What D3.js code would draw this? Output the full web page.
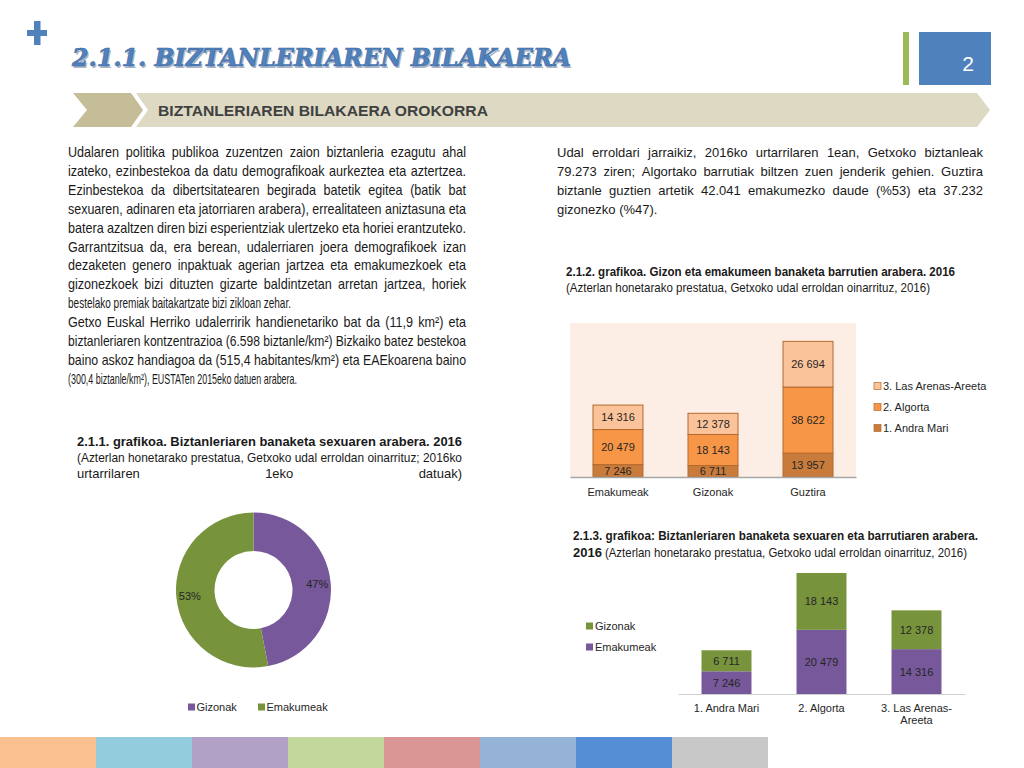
<html>
<head>
  <script src="https://unpkg.com/d3@7/dist/d3.min.js"></script>
  <style>
    body { margin: 0; background: #fff; }
    svg { font-family: 'Liberation Sans', Arial, sans-serif; }
  </style>
</head>
<body>
  <svg id="container" width="1024" height="768"></svg>
<script>
    // chart 2.1.2: districts stacked per group
    const groups = ['Emakumeak', 'Gizonak', 'Guztira'];
    const districts = ['1. Andra Mari', '2. Algorta', '3. Las Arenas-Areeta'];
    const andraMari = [7246, 6711, 13957];
    const algorta = [20479, 18143, 38622];
    const lasArenas = [14316, 12378, 26694];
    const districtColors = ['#c97b3b', '#f79646', '#fbc39a'];

    // chart 2.1.1: donut
    const sexes = ['Gizonak', 'Emakumeak'];
    const sexTotals = [37232, 42041];
    const sexColors = ['#77589a', '#77933c'];

    // chart 2.1.3: sexes stacked per district
    const women = [7246, 20479, 14316];
    const men = [6711, 18143, 12378];

    const stripColors = ['#fac08f', '#93cddd', '#b2a1c7', '#c3d69b', '#d99694', '#95b3d7', '#558ed5', '#c8c8c8'];

    const leftText = [
      'Udalaren politika publikoa zuzentzen zaion biztanleria ezagutu ahal',
      'izateko, ezinbestekoa da datu demografikoak aurkeztea eta aztertzea.',
      'Ezinbestekoa da dibertsitatearen begirada batetik egitea (batik bat',
      'sexuaren, adinaren eta jatorriaren arabera), errealitateen aniztasuna eta',
      'batera azaltzen diren bizi esperientziak ulertzeko eta horiei erantzuteko.',
      'Garrantzitsua da, era berean, udalerriaren joera demografikoek izan',
      'dezaketen genero inpaktuak agerian jartzea eta emakumezkoek eta',
      'gizonezkoek bizi dituzten gizarte baldintzetan arretan jartzea, horiek',
      'bestelako premiak baitakartzate bizi zikloan zehar.',
      'Getxo Euskal Herriko udalerririk handienetariko bat da (11,9 km²) eta',
      'biztanleriaren kontzentrazioa (6.598 biztanle/km²) Bizkaiko batez bestekoa',
      'baino askoz handiagoa da (515,4 habitantes/km²) eta EAEkoarena baino',
      '(300,4 biztanle/km²), EUSTATen 2015eko datuen arabera.'
    ];
    const rightText = [
      'Udal erroldari jarraikiz, 2016ko urtarrilaren 1ean, Getxoko biztanleak',
      '79.273 ziren; Algortako barrutiak biltzen zuen jenderik gehien. Guztira',
      'biztanle guztien artetik 42.041 emakumezko daude (%53) eta 37.232',
      'gizonezko (%47).'
    ];

    const svg = d3.select('#container');
    const fmt = d3.formatLocale({decimal: ',', thousands: ' ', grouping: [3], currency: ['', '']}).format(',d');

    // one line of text: justified by word gaps, or squeezed to width
    function line(sel, str, x, y, w, o) {
      o = o || {};
      const sx = o.sx || 1;
      const g = sel.append('g').attr('transform', `translate(${x},${y}) scale(${sx},1)`);
      const t = g.append('text').attr('y', 0)
        .style('font-size', (o.size || 13) + 'px')
        .style('font-weight', o.bold ? 'bold' : null)
        .style('font-family', o.family || null)
        .attr('fill', o.fill || '#1a1a1a');
      if (!w) { t.attr('x', 0).text(str); return t; }
      const W = w / sx;
      if (o.fit) {
        t.attr('x', 0).text(str).attr('textLength', W).attr('lengthAdjust', 'spacingAndGlyphs');
        return t;
      }
      const words = str.split(' ');
      words.forEach(wd => t.append('tspan').text(wd));
      const widths = t.selectAll('tspan').nodes().map(n => n.getComputedTextLength());
      const sum = d3.sum(widths);
      const sp = (o.size || 13) * 0.25;
      if (words.length < 2 || sum + sp * (words.length - 1) > W) {
        t.selectAll('tspan').remove();
        t.attr('x', 0).text(str).attr('textLength', W).attr('lengthAdjust', 'spacingAndGlyphs');
      } else {
        const gap = (W - sum) / (words.length - 1);
        let cx = 0;
        t.selectAll('tspan').attr('x', (d, i) => { const v = cx; cx += widths[i] + gap; return v; });
      }
      return t;
    }

    // header
    svg.append('rect').attr('x', 27).attr('y', 30).attr('width', 20).attr('height', 6).attr('fill', '#4f81bd');
    svg.append('rect').attr('x', 34).attr('y', 21).attr('width', 6.5).attr('height', 24).attr('fill', '#4f81bd');

    const title = '2.1.1. BIZTANLERIAREN BILAKAERA';
    svg.append('text').attr('x', 73.5).attr('y', 67.5).text(title)
      .style('font-family', 'DejaVu Serif').style('font-weight', 'bold').style('font-style', 'italic')
      .style('font-size', '25px').attr('textLength', 499).attr('lengthAdjust', 'spacingAndGlyphs')
      .attr('fill', '#aab4c4');
    svg.append('text').attr('x', 72).attr('y', 66).text(title)
      .style('font-family', 'DejaVu Serif').style('font-weight', 'bold').style('font-style', 'italic')
      .style('font-size', '25px').attr('textLength', 499).attr('lengthAdjust', 'spacingAndGlyphs')
      .attr('fill', '#4f81bd').attr('stroke', '#3d6aa3').attr('stroke-width', 0.6);

    svg.append('rect').attr('x', 903).attr('y', 32).attr('width', 6).attr('height', 53).attr('fill', '#9bbb59');
    svg.append('rect').attr('x', 919).attr('y', 32).attr('width', 72).attr('height', 53).attr('fill', '#4f81bd');
    svg.append('text').attr('x', 968).attr('y', 71).attr('text-anchor', 'middle').attr('fill', '#fff')
      .style('font-size', '21px').style('font-family', "'Liberation Sans Narrow', 'Liberation Sans'").text('2');

    svg.append('polygon').attr('points', '73,93 131,93 143,110 131,127 73,127 87,110').attr('fill', '#c4bd97');
    svg.append('polygon').attr('points', '136,93 977,93 990,110 977,127 136,127 148,110').attr('fill', '#ddd9c3');
    svg.append('text').attr('x', 158).attr('y', 115.5).text('BIZTANLERIAREN BILAKAERA OROKORRA')
      .style('font-size', '14px').style('font-weight', 'bold').attr('fill', '#404040')
      .attr('textLength', 330).attr('lengthAdjust', 'spacingAndGlyphs');

    // body text
    const lastLeft = {8: 223, 12: 229};
    leftText.forEach((s, i) => {
      const w = lastLeft[i] || 398;
      line(svg, s, 68, 157 + i * 18.9, w, {fit: !!lastLeft[i], sx: 0.9, size: 14});
    });
    rightText.forEach((s, i) => {
      line(svg, s, 557, 157 + i * 19, i < 3 ? 426 : null);
    });

    // captions
    const narrow = "'Liberation Sans Narrow', 'Liberation Sans', Arial";
    line(svg, '2.1.2. grafikoa. Gizon eta emakumeen banaketa barrutien arabera. 2016', 566, 276, 389, {bold: true, size: 13, fit: true, family: narrow});
    line(svg, '(Azterlan honetarako prestatua, Getxoko udal erroldan oinarrituz, 2016)', 566, 292, 364, {size: 13, fit: true, family: narrow});

    line(svg, '2.1.1. grafikoa. Biztanleriaren banaketa sexuaren arabera. 2016', 77, 446, 385, {bold: true, size: 13, family: narrow});
    line(svg, '(Azterlan honetarako prestatua, Getxoko udal erroldan oinarrituz; 2016ko', 77, 462, 385, {size: 13, family: narrow});
    line(svg, 'urtarrilaren 1eko datuak)', 77, 478, 385, {size: 13, family: narrow});

    line(svg, '2.1.3. grafikoa: Biztanleriaren banaketa sexuaren eta barrutiaren arabera.', 573, 540, 405, {bold: true, size: 13, fit: true, family: narrow});
    const y16 = line(svg, '2016', 573, 557, null, {bold: true, size: 13, family: narrow});
    const w16 = y16.node().getComputedTextLength();
    line(svg, '(Azterlan honetarako prestatua, Getxoko udal erroldan oinarrituz, 2016)', 573 + w16 + 3, 557, 967 - 573 - w16 - 3, {size: 13, fit: true, family: narrow});

    // ---- chart 2.1.2 ----
    const c1 = svg.append('g');
    const x1 = d3.scaleBand().domain(groups).range([570, 856]).paddingInner(0.474).paddingOuter(0.242);
    const y1 = d3.scaleLinear().domain([0, 90000]).range([477, 323]);
    c1.append('rect').attr('x', 570).attr('y', 323).attr('width', 286).attr('height', 154).attr('fill', '#fdeee5');

    const rows1 = groups.map((g, i) => ({group: g, [districts[0]]: andraMari[i], [districts[1]]: algorta[i], [districts[2]]: lasArenas[i]}));
    const stack1 = d3.stack().keys(districts)(rows1);
    const layers1 = c1.selectAll('.layer').data(stack1).enter().append('g')
      .attr('fill', (d, i) => districtColors[i]);
    layers1.selectAll('rect').data(d => d).enter().append('rect')
      .attr('x', d => x1(d.data.group))
      .attr('y', d => y1(d[1]))
      .attr('width', x1.bandwidth())
      .attr('height', d => y1(d[0]) - y1(d[1]))
      .attr('stroke', '#b36a2f').attr('stroke-width', 1);
    layers1.selectAll('text').data(d => d).enter().append('text')
      .attr('x', d => x1(d.data.group) + x1.bandwidth() / 2)
      .attr('y', d => (y1(d[0]) + y1(d[1])) / 2 + 4)
      .attr('text-anchor', 'middle').attr('fill', '#262626').style('font-size', '11px')
      .text(d => fmt(d[1] - d[0]));

    const ax1 = c1.append('g').attr('transform', 'translate(0,477)')
      .call(d3.axisBottom(x1).tickSize(0).tickSizeOuter(0).tickPadding(11));
    ax1.select('.domain').attr('stroke', '#a6a6a6').attr('stroke-width', 1.5);
    ax1.selectAll('text').style('font-size', '11px').style('font-family', 'Liberation Sans').attr('fill', '#262626');

    const leg1 = c1.selectAll('.leg').data(districts.slice().reverse()).enter().append('g')
      .attr('transform', (d, i) => `translate(874, ${386 + i * 21})`);
    leg1.append('rect').attr('x', 0).attr('y', -3.5).attr('width', 7).attr('height', 7)
      .attr('fill', d => districtColors[districts.indexOf(d)]).attr('stroke', '#b36a2f').attr('stroke-width', 0.7);
    leg1.append('text').attr('x', 9).attr('y', 4).style('font-size', '11px').attr('fill', '#262626').text(d => d);

    // ---- chart 2.1.1 donut ----
    const c2 = svg.append('g').attr('transform', 'translate(253.5,590)');
    const pie = d3.pie().sort(null)(sexTotals);
    const arc = d3.arc().innerRadius(39).outerRadius(77.5);
    const labelArc = d3.arc().innerRadius(64).outerRadius(64);
    const total = d3.sum(sexTotals);
    c2.selectAll('path').data(pie).enter().append('path')
      .attr('d', arc).attr('fill', (d, i) => sexColors[i]);
    c2.selectAll('text').data(pie).enter().append('text')
      .attr('x', d => labelArc.centroid(d)[0])
      .attr('y', d => labelArc.centroid(d)[1] + 4)
      .attr('text-anchor', 'middle').attr('fill', '#262626').style('font-size', '11px')
      .text(d => Math.round(d.value / total * 100) + '%');

    const leg2x = [188, 258];
    const leg2 = svg.selectAll('.leg2').data(sexes).enter().append('g')
      .attr('transform', (d, i) => `translate(${leg2x[i]}, 707)`);
    leg2.append('rect').attr('y', -3.5).attr('width', 7).attr('height', 7).attr('fill', (d, i) => sexColors[i]);
    leg2.append('text').attr('x', 8.5).attr('y', 4).style('font-size', '11px').attr('fill', '#262626').text(d => d);

    // ---- chart 2.1.3 ----
    const c3 = svg.append('g');
    const x3 = d3.scaleBand().domain(districts).range([678, 965]).paddingInner(0.474).paddingOuter(0.2475);
    const y3 = d3.scaleLinear().domain([0, 45000]).range([694, 553]);
    const rows3 = districts.map((d, i) => ({district: d, Emakumeak: women[i], Gizonak: men[i]}));
    const stack3 = d3.stack().keys(['Emakumeak', 'Gizonak'])(rows3);
    const colors3 = [sexColors[0], sexColors[1]];
    const layers3 = c3.selectAll('.layer').data(stack3).enter().append('g')
      .attr('fill', (d, i) => colors3[i]);
    layers3.selectAll('rect').data(d => d).enter().append('rect')
      .attr('x', d => x3(d.data.district))
      .attr('y', d => y3(d[1]))
      .attr('width', x3.bandwidth())
      .attr('height', d => y3(d[0]) - y3(d[1]));
    layers3.selectAll('text').data(d => d).enter().append('text')
      .attr('x', d => x3(d.data.district) + x3.bandwidth() / 2)
      .attr('y', d => (y3(d[0]) + y3(d[1])) / 2 + 4)
      .attr('text-anchor', 'middle').attr('fill', '#262626').style('font-size', '11px')
      .text(d => fmt(d[1] - d[0]));

    const ax3 = c3.append('g').attr('transform', 'translate(0,694)')
      .call(d3.axisBottom(x3).tickSize(0).tickSizeOuter(0).tickPadding(10));
    ax3.select('.domain').attr('stroke', '#d0d0d0').attr('stroke-width', 1);
    ax3.selectAll('text').style('font-size', '11px').style('font-family', 'Liberation Sans').attr('fill', '#262626')
      .each(function (d) {
        const parts = d.indexOf('-') > 0 ? [d.slice(0, d.indexOf('-') + 1), d.slice(d.indexOf('-') + 1)] : [d];
        if (parts.length > 1) {
          const t = d3.select(this).text(null);
          parts.forEach((p, i) => t.append('tspan').attr('x', 0).attr('dy', i ? '1.15em' : '0.71em').text(p));
        }
      });

    const sex3 = ['Gizonak', 'Emakumeak'];
    const leg3 = c3.selectAll('.leg').data(sex3).enter().append('g')
      .attr('transform', (d, i) => `translate(586, ${626 + i * 21})`);
    leg3.append('rect').attr('y', -3.5).attr('width', 7).attr('height', 7)
      .attr('fill', d => d === 'Gizonak' ? sexColors[1] : sexColors[0]);
    leg3.append('text').attr('x', 9).attr('y', 4).style('font-size', '11px').attr('fill', '#262626').text(d => d);

    // bottom colour strip
    svg.selectAll('.strip').data(stripColors).enter().append('rect')
      .attr('x', (d, i) => i * 96).attr('y', 737).attr('width', 96).attr('height', 31).attr('fill', d => d);
</script>
</body>
</html>
